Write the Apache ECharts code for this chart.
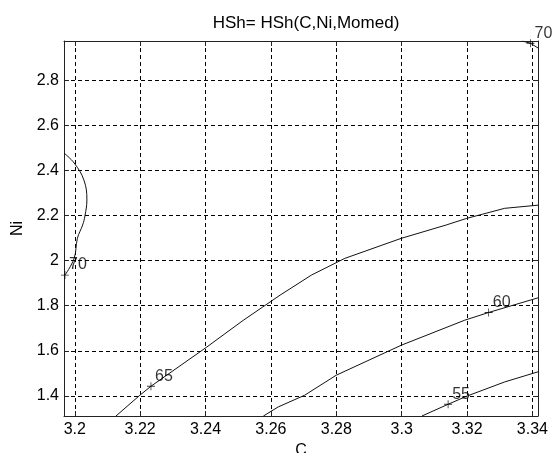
<!DOCTYPE html>
<html>
<head>
<meta charset="utf-8">
<script src="https://cdn.jsdelivr.net/npm/echarts@6/dist/echarts.min.js"></script>
<style>
  html, body { margin: 0; padding: 0; background: #fff; }
  #chart { width: 558px; height: 453px; }
</style>
</head>
<body>
<div id="chart"></div>
<script>
  // axis ranges and ticks (C on x, Ni on y)
  const cRange = [3.1967, 3.3417];
  const niRange = [1.311, 2.974];
  const cTicks = [3.2, 3.22, 3.24, 3.26, 3.28, 3.3, 3.32, 3.34];
  const niTicks = [1.4, 1.6, 1.8, 2, 2.2, 2.4, 2.6, 2.8];

  // contour lines, [C, Ni]
  const level70Left = [
    [3.1967, 2.477], [3.1998, 2.433], [3.2028, 2.357], [3.2037, 2.269],
    [3.2031, 2.198], [3.2024, 2.158], [3.2008, 2.099], [3.1998, 2.010],
    [3.1970, 1.936]
  ];
  const level70Right = [[3.3369, 2.974], [3.3394, 2.964], [3.3417, 2.943]];
  const level65 = [
    [3.2126, 1.311], [3.2199, 1.403], [3.2233, 1.443], [3.2404, 1.617],
    [3.2515, 1.735], [3.2628, 1.847], [3.2724, 1.936], [3.2826, 2.010],
    [3.2999, 2.099], [3.3136, 2.158], [3.3198, 2.187], [3.3315, 2.232],
    [3.3417, 2.246]
  ];
  const level60 = [
    [3.2577, 1.311], [3.2622, 1.351], [3.2703, 1.403], [3.2800, 1.492],
    [3.2999, 1.625], [3.3193, 1.736], [3.3266, 1.770], [3.3417, 1.835]
  ];
  const level55 = [
    [3.3062, 1.311], [3.3142, 1.363], [3.3201, 1.400], [3.3315, 1.462],
    [3.3417, 1.507]
  ];

  // clabel markers: [C, Ni, level]
  const contourLabels = [
    [3.1970, 1.936, 70],
    [3.3394, 2.964, 70],
    [3.2233, 1.443, 65],
    [3.3266, 1.770, 60],
    [3.3142, 1.363, 55]
  ];

  const font = "Liberation Sans, Arial, Helvetica, sans-serif";
  const fmt = (v) => String(+Number(v).toFixed(2));

  function contour(data, smooth) {
    return {
      type: "line",
      data,
      symbol: "none",
      smooth: smooth || false,
      silent: true,
      lineStyle: { color: "#111", width: 1 },
      z: 3
    };
  }

  const chart = echarts.init(document.getElementById("chart"), null, { renderer: "canvas" });

  const axisBase = {
    type: "value",
    axisLine: { show: true, onZero: false, lineStyle: { color: "#222", width: 1 } },
    axisTick: { show: true, inside: true, length: 5, lineStyle: { color: "#222" } },
    splitLine: { show: false }
  };

  chart.setOption({
    animation: false,
    backgroundColor: "#fff",
    title: {
      text: "HSh= HSh(C,Ni,Momed)",
      left: 301,
      top: 10,
      textAlign: "center",
      textStyle: { fontFamily: font, fontSize: 17, fontWeight: "normal", color: "#000" }
    },
    grid: { left: 64, right: 20, top: 41, bottom: 37, outerBoundsMode: "none", containLabel: false },
    xAxis: [
      {
        ...axisBase,
        min: cRange[0],
        max: cRange[1],
        name: "C",
        nameLocation: "middle",
        nameGap: 25,
        nameTextStyle: { fontFamily: font, fontSize: 16, color: "#000" },
        axisTick: { ...axisBase.axisTick, customValues: cTicks },
        axisLabel: {
          customValues: cTicks,
          formatter: fmt,
          fontFamily: font,
          fontSize: 16,
          color: "#000",
          margin: 6
        },
        splitLine: { show: true, lineStyle: { color: "#000", type: [4, 3], width: 1 } }
      },
      {
        ...axisBase,
        position: "top",
        min: cRange[0],
        max: cRange[1],
        axisTick: { ...axisBase.axisTick, customValues: cTicks },
        axisLabel: { show: false, customValues: cTicks }
      }
    ],
    yAxis: [
      {
        ...axisBase,
        min: niRange[0],
        max: niRange[1],
        name: "Ni",
        nameLocation: "middle",
        nameGap: 29,
        nameTextStyle: { fontFamily: font, fontSize: 16, color: "#000" },
        axisTick: { ...axisBase.axisTick, customValues: niTicks },
        axisLabel: {
          customValues: niTicks,
          formatter: fmt,
          fontFamily: font,
          fontSize: 16,
          color: "#000",
          margin: 5
        },
        splitLine: { show: true, lineStyle: { color: "#000", type: [4, 3], width: 1 } }
      },
      {
        ...axisBase,
        position: "right",
        min: niRange[0],
        max: niRange[1],
        axisTick: { ...axisBase.axisTick, customValues: niTicks },
        axisLabel: { show: false, customValues: niTicks }
      }
    ],
    series: [
      contour(level70Left, 0.4),
      contour(level70Right),
      contour(level65),
      contour(level60),
      contour(level55),
      {
        type: "scatter",
        data: contourLabels,
        symbol: "path://M4.5,0H5.5V4.5H10V5.5H5.5V10H4.5V5.5H0V4.5H4.5Z",
        symbolSize: 8,
        clip: false,
        silent: true,
        itemStyle: { color: "#000" },
        label: {
          show: true,
          position: "inside",
          offset: [13, -10],
          formatter: (p) => String(p.value[2]),
          fontFamily: font,
          fontSize: 16,
          color: "#000"
        },
        z: 4
      }
    ]
  });
</script>
</body>
</html>
